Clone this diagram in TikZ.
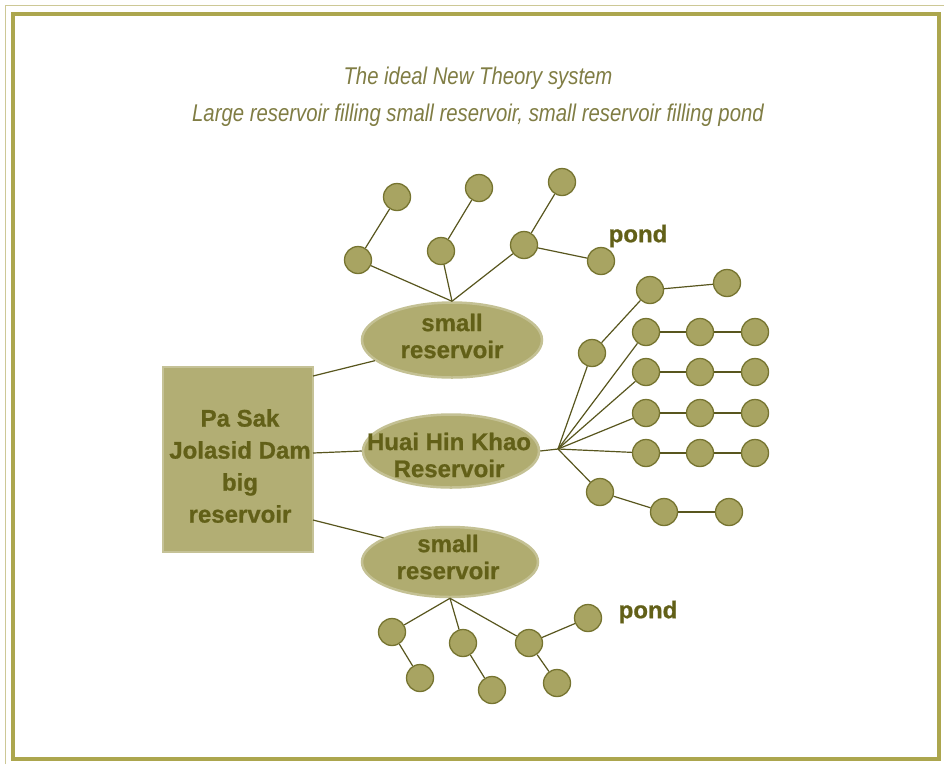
\documentclass[tikz,border=0pt]{standalone}
\usepackage{fontspec}
\setmainfont{Liberation Sans}
\newfontfamily\titlefont{Liberation Sans}[FakeStretch=0.84]
\newfontfamily\heavyfont{Liberation Sans}[BoldFeatures={FakeBold=0.8}]
\usetikzlibrary{shapes.geometric}
\definecolor{circfill}{RGB}{168,164,98}
\definecolor{circline}{RGB}{118,116,48}
\definecolor{linecol}{RGB}{88,86,30}
\definecolor{labcol}{RGB}{98,96,24}
\definecolor{titlecol}{RGB}{128,125,68}
\definecolor{ellfill}{RGB}{176,172,112}
\definecolor{boxfill}{RGB}{178,174,116}
\definecolor{framecol}{RGB}{172,166,78}
\definecolor{thincol}{RGB}{205,200,150}
\begin{document}
\begin{tikzpicture}[x=1pt,y=-1pt,
  pondc/.style={circle, fill=circfill, draw=circline, line width=1.3pt, minimum size=27pt, inner sep=0pt},
  link/.style={draw=linecol, line width=1.2pt},
  boldlab/.style={font=\heavyfont\fontsize{24}{27}\selectfont\bfseries, text=labcol, align=center},
  resv/.style={ellipse, fill=ellfill, draw=ellfill!75!white, line width=2.5pt, inner sep=0pt},
  titletxt/.style={font=\titlefont\itshape\fontsize{24.2}{28}\selectfont, text=titlecol}]
\useasboundingbox (0,0) rectangle (944,764);
\fill[white] (0,0) rectangle (944,764);
% frame
\draw[thincol, line width=0.8pt] (5,764) -- (5,5) -- (944,5);
\draw[framecol, line width=4pt] (13,14) rectangle (939,759);
% title
\node[titletxt] (t1) at (478,78) {The ideal New Theory system};
\node[titletxt] (t2) at (478,115) {Large reservoir filling small reservoir, small reservoir filling pond};
% big reservoir
\node[rectangle, fill=boxfill, draw=boxfill!75!white, line width=2.5pt, minimum width=150pt, minimum height=185pt, inner sep=0pt] (dam) at (238,459.5) {};
\node[boldlab, font=\heavyfont\fontsize{24}{32}\selectfont\bfseries] (damlabel) at (240,466) {Pa Sak\\Jolasid Dam\\big\\reservoir};
% reservoirs
\node[resv, minimum width=180pt, minimum height=75pt] (e1) at (452,340) {};
\node[boldlab] (e1label) at (452,336) {small\\reservoir};
\node[resv, minimum width=176pt, minimum height=73pt] (e2) at (451,451) {};
\node[boldlab] (e2label) at (449,455) {Huai Hin Khao\\Reservoir};
\node[resv, minimum width=176pt, minimum height=70pt] (e3) at (450,562) {};
\node[boldlab] (e3label) at (448,557) {small\\reservoir};
% dam links
\coordinate (d1) at (313,376);
\coordinate (d2) at (313,453);
\coordinate (d3) at (313,520);
\draw[link] (d1) -- (e1.195);
\draw[link] (d2) -- (e2.west);
\draw[link] (d3) -- (e3.160);
% top tree
\node[pondc] (a1) at (358,260) {};
\node[pondc] (a2) at (397,197) {};
\node[pondc] (b1) at (441,251) {};
\node[pondc] (b2) at (479,188) {};
\node[pondc] (c1) at (524,245) {};
\node[pondc] (c2) at (562,182) {};
\node[pondc] (c3) at (601,261) {};
\node[boldlab] (pond1) at (638,236) {pond};
\draw[link] (e1.north) -- (a1);
\draw[link] (a1) -- (a2);
\draw[link] (e1.north) -- (b1);
\draw[link] (b1) -- (b2);
\draw[link] (e1.north) -- (c1);
\draw[link] (c1) -- (c2);
\draw[link] (c1) -- (c3);
% right tree
\coordinate (j2) at (558,449);
\draw[link] (e2.east) -- (j2);
\node[pondc] (d1n) at (592,353) {};
\node[pondc] (d2n) at (650,290) {};
\node[pondc] (d3n) at (727,283) {};
\draw[link] (j2) -- (d1n);
\draw[link] (d1n) -- (d2n);
\draw[link] (d2n) -- (d3n);
\foreach \r/\y in {1/332,2/372,3/413,4/453}{
  \node[pondc] (r\r a) at (646,\y) {};
  \node[pondc] (r\r b) at (700,\y) {};
  \node[pondc] (r\r c) at (755,\y) {};
  \draw[link] (j2) -- (r\r a);
  \draw[link] (r\r a) -- (r\r b);
  \draw[link] (r\r b) -- (r\r c);
}
\node[pondc] (f1n) at (600,492) {};
\node[pondc] (f2n) at (664,512) {};
\node[pondc] (f3n) at (729,512) {};
\draw[link] (j2) -- (f1n);
\draw[link] (f1n) -- (f2n);
\draw[link] (f2n) -- (f3n);
% bottom tree
\node[pondc] (g1) at (392,632) {};
\node[pondc] (g2) at (420,678) {};
\node[pondc] (h1) at (463,643) {};
\node[pondc] (h2) at (492,690) {};
\node[pondc] (k1) at (529,643) {};
\node[pondc] (k2) at (557,683) {};
\node[pondc] (k3) at (588,618) {};
\node[boldlab] (pond2) at (648,612) {pond};
\draw[link] (e3.south) -- (g1);
\draw[link] (g1) -- (g2);
\draw[link] (e3.south) -- (h1);
\draw[link] (h1) -- (h2);
\draw[link] (e3.south) -- (k1);
\draw[link] (k1) -- (k2);
\draw[link] (k1) -- (k3);
\end{tikzpicture}
\end{document}
